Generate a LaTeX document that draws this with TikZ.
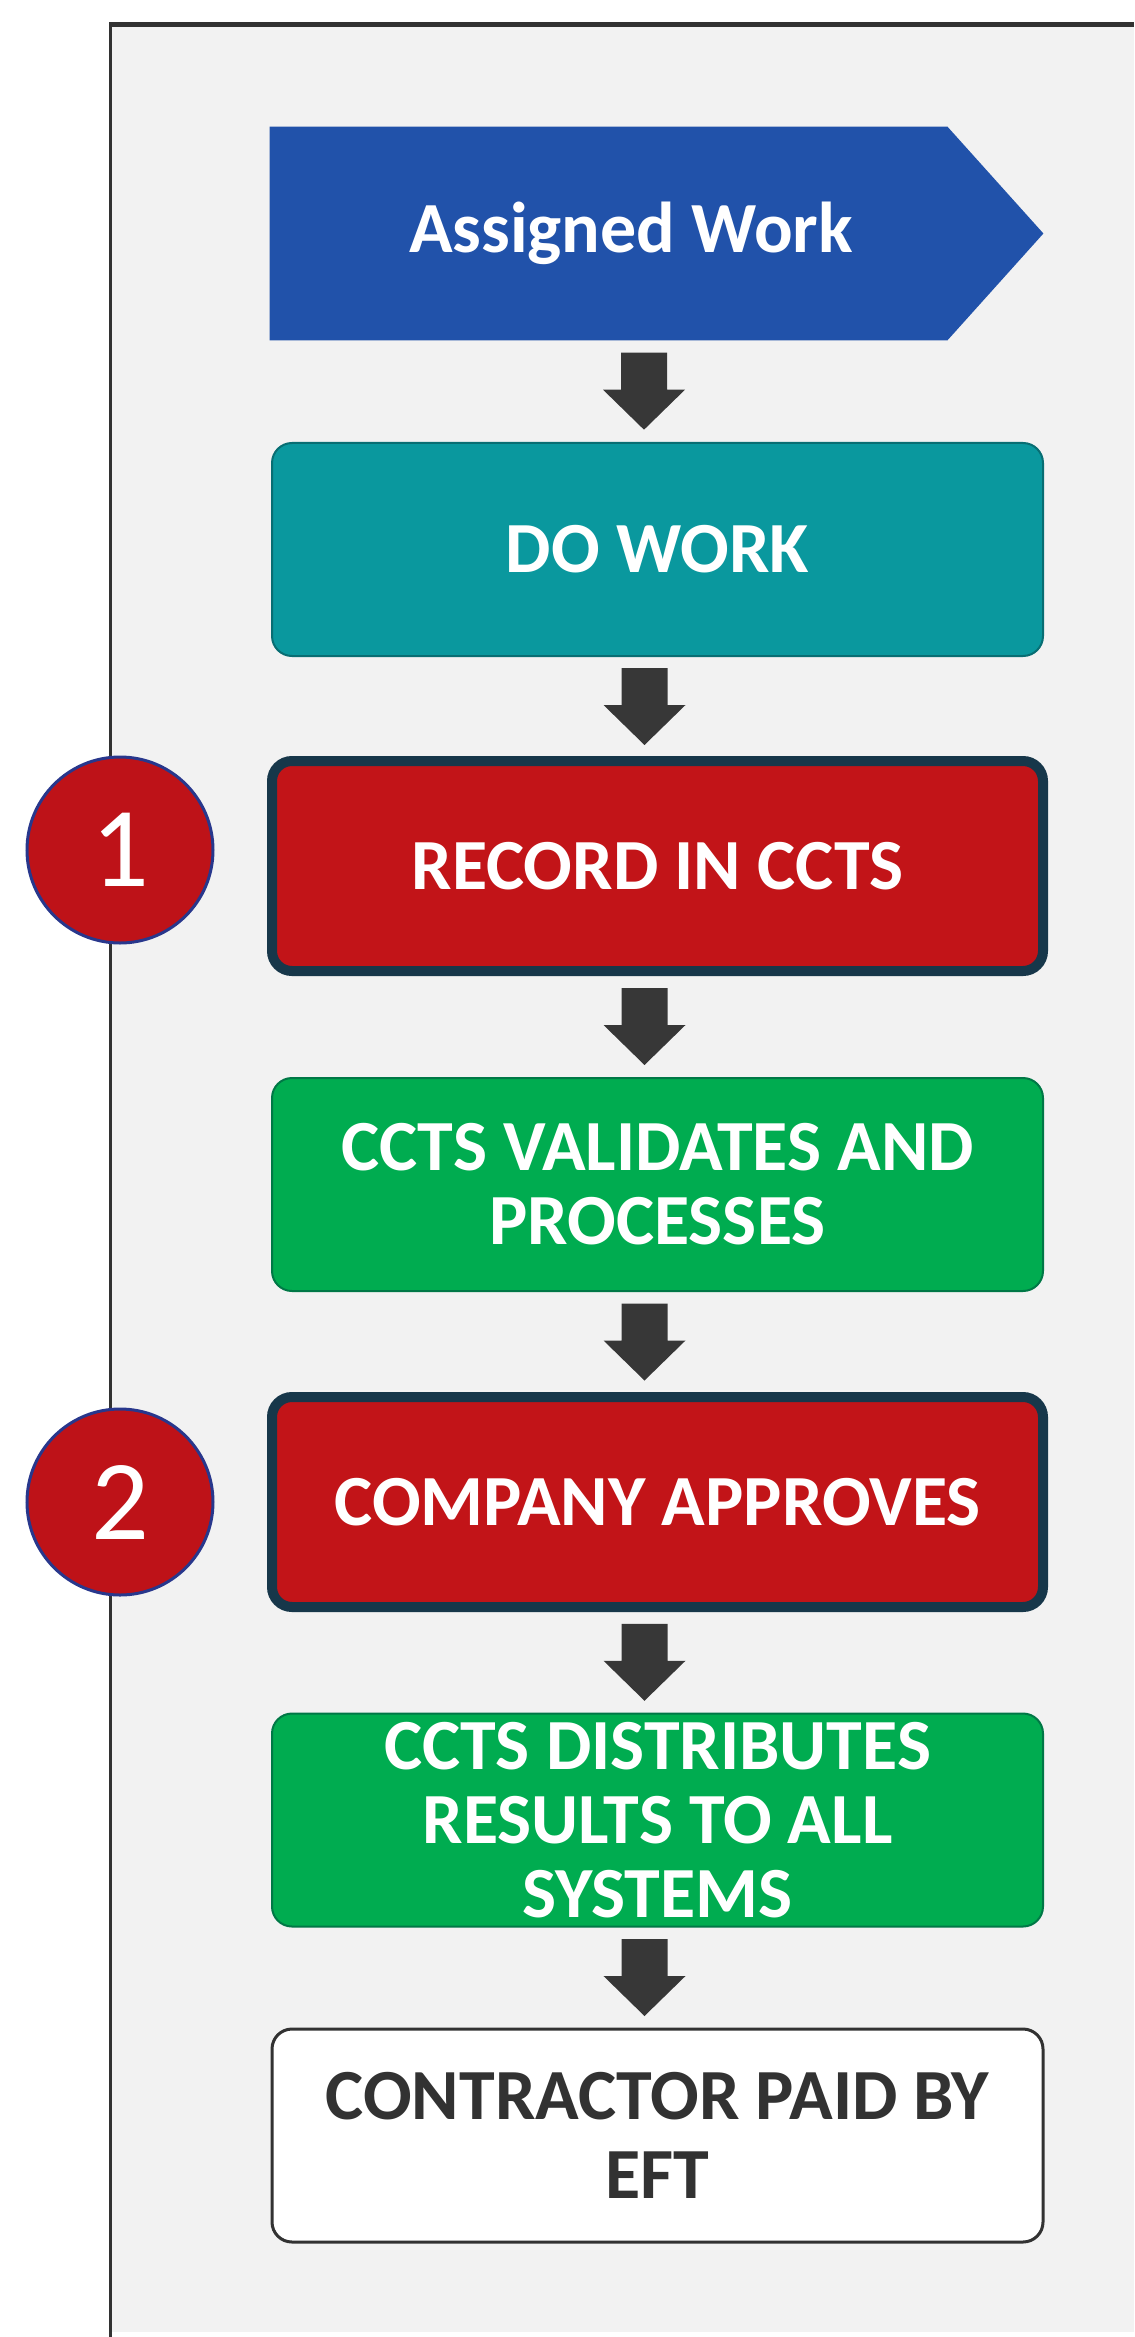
\documentclass[tikz,border=0pt]{standalone}
\usepackage{fontspec}
\setmainfont{Carlito}
\usetikzlibrary{calc}
\definecolor{awblue}{RGB}{33,82,170}
\definecolor{teal1}{RGB}{10,152,158}
\definecolor{teal2}{RGB}{8,110,115}
\definecolor{red1}{RGB}{194,20,24}
\definecolor{navy1}{RGB}{23,55,74}
\definecolor{green1}{RGB}{0,172,80}
\definecolor{green2}{RGB}{0,120,70}
\definecolor{circred}{RGB}{190,18,24}
\definecolor{circblue}{RGB}{40,55,140}
\definecolor{arrowc}{RGB}{55,55,55}
\definecolor{framegray}{RGB}{242,242,242}
\definecolor{frameline}{RGB}{50,50,50}
\definecolor{darktext}{RGB}{50,50,50}
\newcommand\flowarrow[2]{%
  \path ($(#1.south)!0.5!(#2.north)$) coordinate (m#1);
  \fill[arrowc] ($(m#1)+(-36,-38.5)$) -- ($(m#1)+(10,-38.5)$) -- ($(m#1)+(10,-1.5)$)
    -- ($(m#1)+(28,-1.5)$) -- ($(m#1)+(-13,38.5)$) -- ($(m#1)+(-54,-1.5)$)
    -- ($(m#1)+(-36,-1.5)$) -- cycle;}
\begin{document}
\begin{tikzpicture}[x=0.5pt,y=-0.5pt,
  boxbase/.style={rectangle, rounded corners=10pt, minimum width=385.5pt,
    minimum height=106.5pt, align=center, inner sep=0pt,
    font=\fontsize{36}{37}\selectfont\bfseries},
  tealbox/.style={boxbase, fill=teal1, draw=teal2, line width=1pt, text=white},
  redbox/.style={boxbase, fill=red1, draw=navy1, line width=5pt, text=white,
    minimum height=105pt},
  greenbox/.style={boxbase, fill=green1, draw=green2, line width=1pt, text=white},
  whitebox/.style={boxbase, fill=white, draw=darktext, line width=1.5pt, text=darktext,
    font=\fontsize{36}{39.5}\selectfont\bfseries},
  awshape/.style={rectangle, minimum width=386.5pt, minimum height=106.5pt, inner sep=0pt},
  awtext/.style={text=white, font=\fontsize{36}{38}\selectfont\bfseries, inner sep=0pt},
  numcirc/.style={circle, minimum size=93pt, inner sep=0pt, fill=circred,
    draw=circblue, line width=1.5pt, text=white, font=\fontsize{57}{60}\selectfont}
]
\fill[white] (0,0) rectangle (1134,2337);
\useasboundingbox (0,0) rectangle (1134,2337);
% frame
\fill[framegray] (110,25) rectangle (1134,2332);
\draw[frameline, line width=1.5pt] (110,2337) -- (110,24);
\draw[frameline, line width=2.5pt] (109,25) -- (1134,25);
% assigned work
\node[awshape] (aw) at (656.5,233.5) {};
\fill[awblue] (aw.north west) -- ($(aw.north east)+(-96,0)$) -- (aw.east)
  -- ($(aw.south east)+(-96,0)$) -- (aw.south west) -- cycle;
\node[awtext] (awt) at (631,233.5) {Assigned Work};
% boxes
\node[tealbox] (dw) at (657.5,549.5) {DO WORK};
\node[redbox] (rc) at (657.5,866) {RECORD IN CCTS};
\node[greenbox] (va) at (657.5,1184.5) {CCTS VALIDATES AND\\PROCESSES};
\node[redbox] (ca) at (657.5,1502) {COMPANY APPROVES};
\node[greenbox] (di) at (657.5,1820) {CCTS DISTRIBUTES\\RESULTS TO ALL\\SYSTEMS};
\node[whitebox] (cp) at (657.5,2135.5) {CONTRACTOR PAID BY\\EFT};
% numbered circles
\node[numcirc] (n1) at (120,850) {1};
\node[numcirc] (n2) at (120,1502) {2};
% arrows
\flowarrow{aw}{dw}
\flowarrow{dw}{rc}
\flowarrow{rc}{va}
\flowarrow{va}{ca}
\flowarrow{ca}{di}
\flowarrow{di}{cp}
\end{tikzpicture}
\end{document}
